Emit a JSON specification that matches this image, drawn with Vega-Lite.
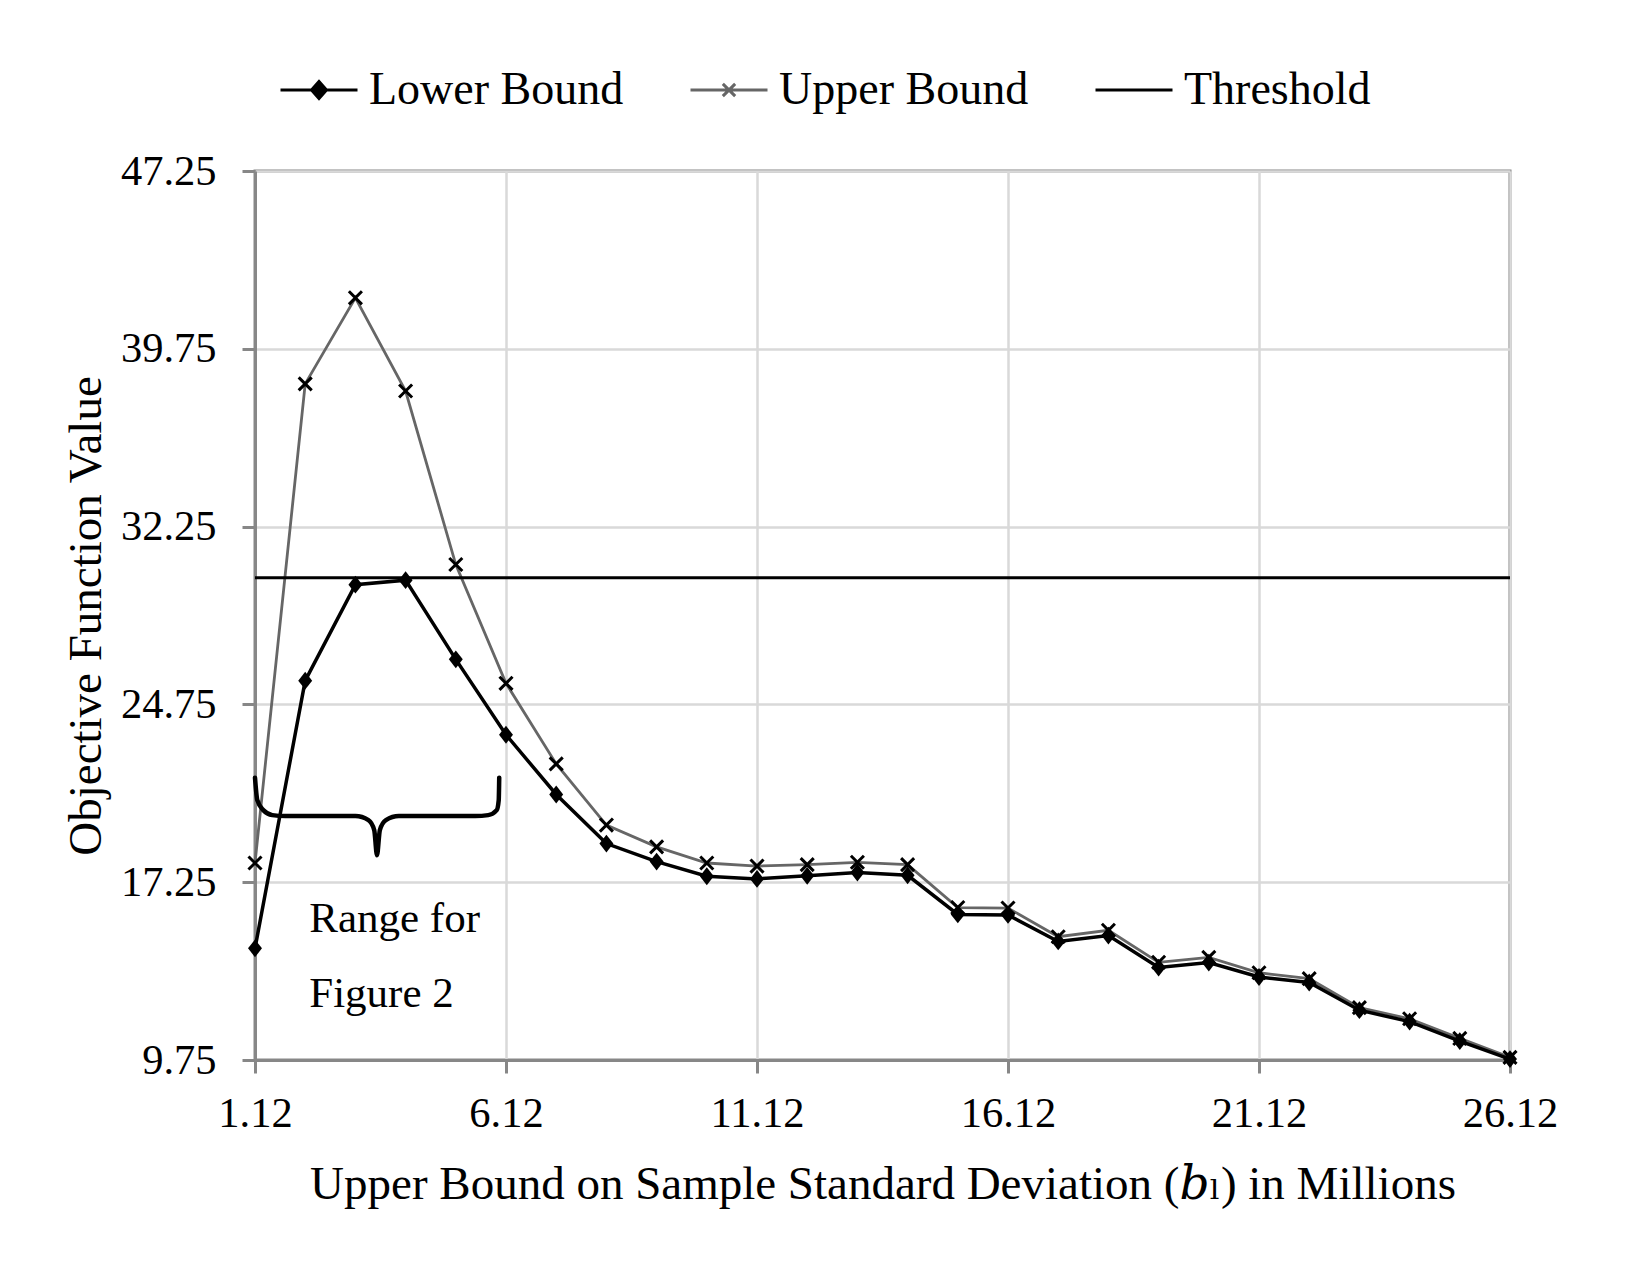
{
  "$schema": "https://vega.github.io/schema/vega-lite/v6.json",
  "width": 1255,
  "height": 889,
  "autosize": {"type": "none"},
  "padding": {"left": 255, "top": 171, "right": 140, "bottom": 215},
  "background": "white",
  "datasets": {
    "series": [
      {"x": 1.12, "series": "Lower Bound", "y": 14.46}, {"x": 1.12, "series": "Upper Bound", "y": 18.06},
      {"x": 2.12, "series": "Lower Bound", "y": 25.75}, {"x": 2.12, "series": "Upper Bound", "y": 38.27},
      {"x": 3.12, "series": "Lower Bound", "y": 29.8}, {"x": 3.12, "series": "Upper Bound", "y": 41.9},
      {"x": 4.12, "series": "Lower Bound", "y": 29.99}, {"x": 4.12, "series": "Upper Bound", "y": 37.97},
      {"x": 5.12, "series": "Lower Bound", "y": 26.65}, {"x": 5.12, "series": "Upper Bound", "y": 30.65},
      {"x": 6.12, "series": "Lower Bound", "y": 23.47}, {"x": 6.12, "series": "Upper Bound", "y": 25.64},
      {"x": 7.12, "series": "Lower Bound", "y": 20.95}, {"x": 7.12, "series": "Upper Bound", "y": 22.24},
      {"x": 8.12, "series": "Lower Bound", "y": 18.88}, {"x": 8.12, "series": "Upper Bound", "y": 19.66},
      {"x": 9.12, "series": "Lower Bound", "y": 18.12}, {"x": 9.12, "series": "Upper Bound", "y": 18.74},
      {"x": 10.12, "series": "Lower Bound", "y": 17.5}, {"x": 10.12, "series": "Upper Bound", "y": 18.06},
      {"x": 11.12, "series": "Lower Bound", "y": 17.39}, {"x": 11.12, "series": "Upper Bound", "y": 17.93},
      {"x": 12.12, "series": "Lower Bound", "y": 17.52}, {"x": 12.12, "series": "Upper Bound", "y": 17.99},
      {"x": 13.12, "series": "Lower Bound", "y": 17.66}, {"x": 13.12, "series": "Upper Bound", "y": 18.09},
      {"x": 14.12, "series": "Lower Bound", "y": 17.54}, {"x": 14.12, "series": "Upper Bound", "y": 17.99},
      {"x": 15.12, "series": "Lower Bound", "y": 15.89}, {"x": 15.12, "series": "Upper Bound", "y": 16.18},
      {"x": 16.12, "series": "Lower Bound", "y": 15.87}, {"x": 16.12, "series": "Upper Bound", "y": 16.16},
      {"x": 17.12, "series": "Lower Bound", "y": 14.75}, {"x": 17.12, "series": "Upper Bound", "y": 14.95},
      {"x": 18.12, "series": "Lower Bound", "y": 15.0}, {"x": 18.12, "series": "Upper Bound", "y": 15.22},
      {"x": 19.12, "series": "Lower Bound", "y": 13.65}, {"x": 19.12, "series": "Upper Bound", "y": 13.87},
      {"x": 20.12, "series": "Lower Bound", "y": 13.86}, {"x": 20.12, "series": "Upper Bound", "y": 14.08},
      {"x": 21.12, "series": "Lower Bound", "y": 13.25}, {"x": 21.12, "series": "Upper Bound", "y": 13.43},
      {"x": 22.12, "series": "Lower Bound", "y": 13.02}, {"x": 22.12, "series": "Upper Bound", "y": 13.18},
      {"x": 23.12, "series": "Lower Bound", "y": 11.85}, {"x": 23.12, "series": "Upper Bound", "y": 11.96},
      {"x": 24.12, "series": "Lower Bound", "y": 11.37}, {"x": 24.12, "series": "Upper Bound", "y": 11.49},
      {"x": 25.12, "series": "Lower Bound", "y": 10.55}, {"x": 25.12, "series": "Upper Bound", "y": 10.66},
      {"x": 26.12, "series": "Lower Bound", "y": 9.79}, {"x": 26.12, "series": "Upper Bound", "y": 9.86}
    ],
    "threshold": [
      {"x": 1.12, "y": 30.09}, {"x": 26.12, "y": 30.09}
    ],
    "brace": [
      {"x": 1.12, "y": 21.66}, {"x": 1.166, "y": 20.71}, {"x": 1.285, "y": 20.29}, {"x": 1.465, "y": 20.08},
      {"x": 1.724, "y": 20.04}, {"x": 3.12, "y": 20.04}, {"x": 3.38, "y": 19.87}, {"x": 3.495, "y": 19.45},
      {"x": 3.55, "y": 18.39}, {"x": 3.607, "y": 19.45}, {"x": 3.727, "y": 19.87}, {"x": 3.986, "y": 20.04},
      {"x": 5.507, "y": 20.04}, {"x": 5.766, "y": 20.08}, {"x": 5.935, "y": 20.29}, {"x": 5.975, "y": 20.71},
      {"x": 5.985, "y": 21.66}
    ],
    "notes": [
      {"x": 2.2, "y": 15.15, "label": "Range for"},
      {"x": 2.2, "y": 11.99, "label": "Figure 2"}
    ]
  },
  "encoding": {
    "x": {
      "field": "x", "type": "quantitative",
      "scale": {"domain": [1.12, 26.12], "nice": false, "zero": false},
      "axis": {
        "title": "Upper Bound on Sample Standard Deviation (𝑏ₗ) in Millions",
        "values": [1.12, 6.12, 11.12, 16.12, 21.12, 26.12],
        "format": ".2f",
        "labelBaseline": "alphabetic", "labelPadding": 53,
        "titleBaseline": "alphabetic", "titleY": 138
      }
    },
    "y": {
      "field": "y", "type": "quantitative",
      "scale": {"domain": [9.75, 47.25], "nice": false, "zero": false},
      "axis": {
        "title": "Objective Function Value",
        "values": [9.75, 17.25, 24.75, 32.25, 39.75, 47.25],
        "format": ".2f",
        "labelBaseline": "middle", "labelPadding": 26,
        "titleBaseline": "alphabetic", "titleX": -155, "titleY": 444.5, "titleAngle": 270
      }
    }
  },
  "layer": [
    {
      "data": {"name": "series"},
      "transform": [{"filter": "datum.series === 'Upper Bound'"}],
      "mark": {"type": "line", "color": "#666666", "strokeWidth": 2.8}
    },
    {
      "data": {"name": "series"},
      "transform": [{"filter": "datum.series === 'Lower Bound'"}],
      "mark": {"type": "line", "color": "#000000", "strokeWidth": 3.5}
    },
    {
      "data": {"name": "threshold"},
      "mark": {"type": "line", "color": "#000000", "strokeWidth": 3}
    },
    {
      "data": {"name": "series"},
      "transform": [{"filter": "datum.series === 'Lower Bound'"}],
      "mark": {"type": "point", "shape": "M0,-1.15L0.9,0L0,1.15L-0.9,0Z", "filled": true, "color": "#000000", "size": 240, "opacity": 1}
    },
    {
      "data": {"name": "series"},
      "transform": [{"filter": "datum.series === 'Upper Bound'"}],
      "mark": {"type": "point", "shape": "M-1,-1L1,1M-1,1L1,-1", "filled": false, "color": "#000000", "strokeWidth": 3, "size": 170, "opacity": 1}
    },
    {
      "data": {"name": "brace"},
      "mark": {"type": "line", "color": "#000000", "strokeWidth": 4.5, "interpolate": "monotone", "strokeCap": "round"}
    },
    {
      "data": {"name": "notes"},
      "mark": {"type": "text", "align": "left", "baseline": "alphabetic", "font": "Liberation Serif", "fontSize": 43, "color": "#000000"},
      "encoding": {
        "text": {"field": "label", "type": "nominal"}
      }
    },
    {
      "data": {"values": []},
      "mark": {"type": "point", "filled": false, "opacity": 1},
      "encoding": {
        "color": {
          "field": "series", "type": "nominal",
          "scale": {"domain": ["Lower Bound", "Upper Bound", "Threshold"], "range": ["#000000", "#666666", "#000000"]},
          "legend": {
            "title": null, "orient": "none", "legendX": 24, "legendY": -121, "direction": "horizontal",
            "labelFont": "Liberation Serif", "labelFontSize": 46, "labelColor": "#000000", "labelLimit": 700,
            "labelOffset": 10, "columnPadding": 60, "symbolSize": 5929, "symbolStrokeWidth": 3, "padding": 0,
            "symbolOpacity": 1
          }
        },
        "shape": {
          "field": "series", "type": "nominal",
          "scale": {
            "domain": ["Lower Bound", "Upper Bound", "Threshold"],
            "range": [
              "M-1,0L1,0M0,-0.22L0.195,0L0,0.22L-0.195,0ZM0,-0.13L0.115,0L0,0.13L-0.115,0ZM0,-0.05L0.045,0L0,0.05L-0.045,0Z",
              "M-1,0L1,0M-0.16,-0.16L0.16,0.16M-0.16,0.16L0.16,-0.16",
              "M-1,0L1,0"
            ]
          },
          "legend": {
            "title": null, "orient": "none", "legendX": 24, "legendY": -121, "direction": "horizontal",
            "labelFont": "Liberation Serif", "labelFontSize": 46, "labelColor": "#000000", "labelLimit": 700,
            "labelOffset": 10, "columnPadding": 60, "symbolSize": 5929, "symbolStrokeWidth": 3, "padding": 0,
            "symbolOpacity": 1
          }
        }
      }
    }
  ],
  "config": {
    "font": "Liberation Serif",
    "view": {"stroke": "#878787", "strokeWidth": 3},
    "axis": {
      "domainColor": "#878787", "domainWidth": 3,
      "tickColor": "#878787", "tickWidth": 3, "tickSize": 13,
      "gridColor": "#d9d9d9", "gridWidth": 2.5, "grid": true,
      "labelFont": "Liberation Serif", "labelFontSize": 42.5, "labelColor": "#000000",
      "labelFlush": false, "labelOverlap": false,
      "titleFont": "Liberation Serif, DejaVu Serif", "titleFontSize": 47, "titleFontWeight": "normal", "titleColor": "#000000"
    }
  }
}
